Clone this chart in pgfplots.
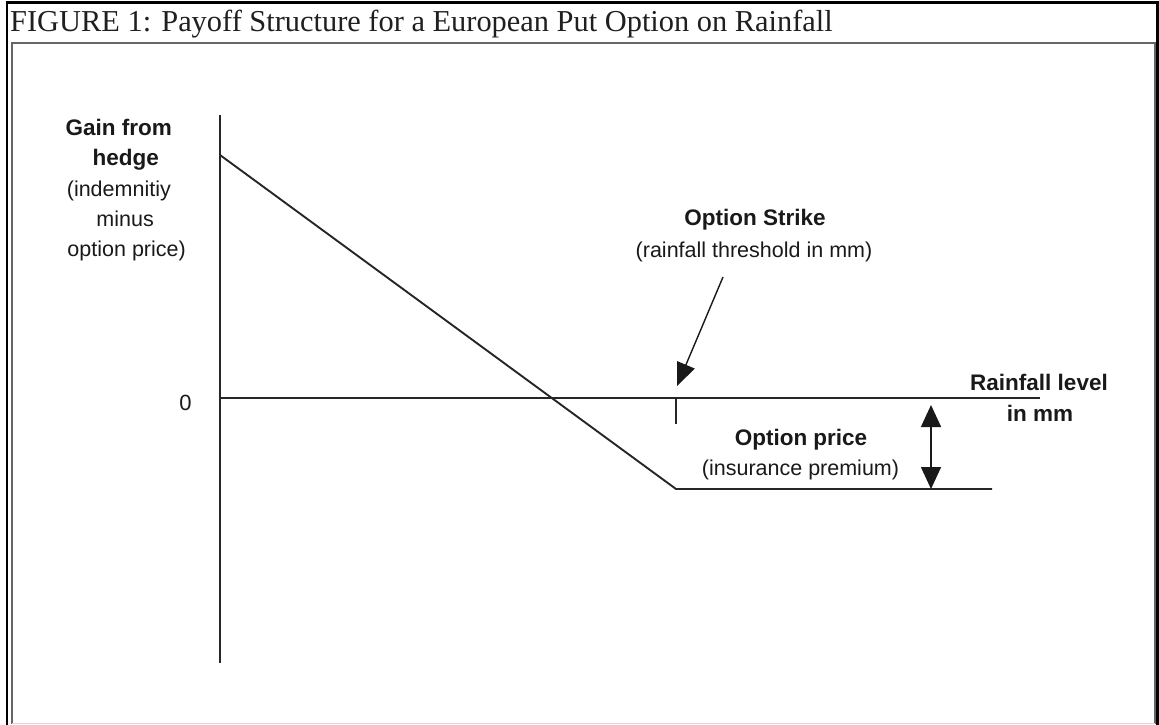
\documentclass[border=0pt]{standalone}
\usepackage{pgfplots}
\pgfplotsset{compat=1.18}
\usepackage{fontspec}
\setmainfont{Liberation Serif}
\newfontfamily\arial{Liberation Sans}
\usetikzlibrary{arrows.meta}
\begin{document}
\begin{tikzpicture}
\begin{axis}[width=1159pt,height=725pt,scale only axis,
  xmin=0,xmax=1159,ymin=0,ymax=725,y dir=reverse,
  axis lines=none,clip=false]
% frames
\draw[black,line width=2.2pt] (axis cs:7,740) -- (axis cs:7,2.5) -- (axis cs:1157.5,2.5) -- (axis cs:1157.5,740);
\draw[black!60,line width=1.6pt] (axis cs:12,724) -- (axis cs:12,43) -- (axis cs:1155,43) -- (axis cs:1155,724);
\draw[black!15,line width=1pt] (axis cs:12,723.5) -- (axis cs:1155,723.5);
% title
\node[anchor=base west,inner sep=0pt,text=black!88,font=\fontsize{30.4}{32}\selectfont] at (axis cs:10,32) {FIGURE 1: Payoff Structure for a European Put Option on Rainfall};
% axes
\addplot[black!85,line width=1.9pt,no marks,forget plot] coordinates {(220,115) (220,663)};
\addplot[black!85,line width=1.9pt,no marks,forget plot] coordinates {(220,398) (1040,398)};
\addplot[black!85,line width=1.5pt,no marks,forget plot] coordinates {(676,398) (676,424)};
% payoff
\addplot[black!85,line width=1.9pt,no marks,forget plot] coordinates {(220,155) (676,489) (992,489)};
% arrows
\draw[black!90,line width=1.4pt,-{Triangle[width=19pt,length=23pt]}] (axis cs:723,277) -- (axis cs:677,386);
\draw[black!90,line width=1.6pt,{Triangle[width=20pt,length=22pt]}-{Triangle[width=20pt,length=22pt]}] (axis cs:931,405) -- (axis cs:931,489);
% labels
\begin{scope}[every node/.style={inner sep=0pt,text=black!90}]
\node[anchor=base east,font=\arial\bfseries\fontsize{22.5}{26}\selectfont] at (axis cs:172,135) {Gain from};
\node[anchor=base east,font=\arial\bfseries\fontsize{22.5}{26}\selectfont] at (axis cs:159,165) {hedge};
\node[anchor=base east,font=\arial\fontsize{21.5}{26}\selectfont] at (axis cs:171,196) {(indemnitiy};
\node[anchor=base east,font=\arial\fontsize{21.5}{26}\selectfont] at (axis cs:154,226) {minus};
\node[anchor=base east,font=\arial\fontsize{21.5}{26}\selectfont] at (axis cs:186,256) {option price)};
\node[anchor=base,font=\arial\fontsize{22}{26}\selectfont] at (axis cs:185.5,410) {0};
\node[anchor=base,font=\arial\bfseries\fontsize{22.5}{26}\selectfont] at (axis cs:755,225) {Option Strike};
\node[anchor=base,font=\arial\fontsize{21.5}{26}\selectfont] at (axis cs:754,257) {(rainfall threshold in mm)};
\node[anchor=base,font=\arial\bfseries\fontsize{22.5}{26}\selectfont] at (axis cs:1039,390) {Rainfall level};
\node[anchor=base,font=\arial\bfseries\fontsize{22.5}{26}\selectfont] at (axis cs:1040,421) {in mm};
\node[anchor=base,font=\arial\bfseries\fontsize{22.5}{26}\selectfont] at (axis cs:801,445) {Option price};
\node[anchor=base,font=\arial\fontsize{21.5}{26}\selectfont] at (axis cs:800.5,475) {(insurance premium)};
\end{scope}
\end{axis}
\pgfresetboundingbox
\path[use as bounding box] (0,0) rectangle (1159pt,725pt);
\end{tikzpicture}
\end{document}
